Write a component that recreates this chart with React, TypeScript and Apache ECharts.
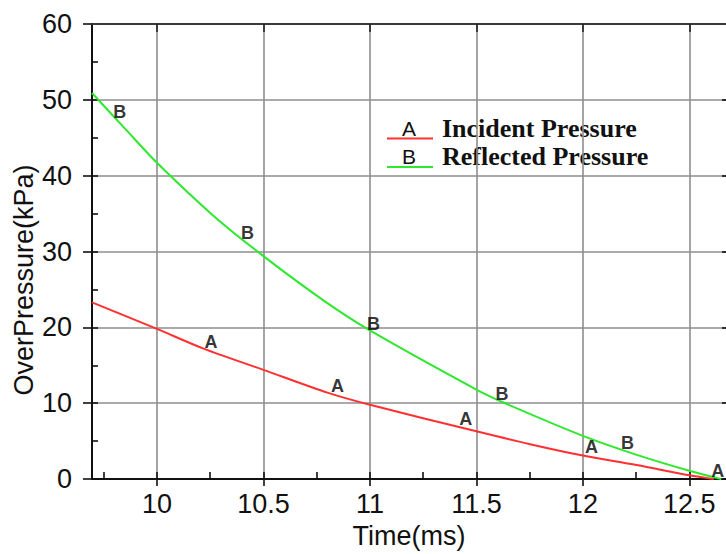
import React, { useEffect, useRef } from "react";
import * as echarts from "echarts";

// Incident pressure (curve A)
const incidentTime = [9.695, 10.0, 10.219, 10.5, 10.8, 11.0, 11.5, 11.752, 12.0, 12.253, 12.5, 12.615];
const incidentPressure = [23.3, 19.8, 17.2, 14.4, 11.4, 9.8, 6.3, 4.6, 3.1, 1.85, 0.5, 0];

// Reflected pressure (curve B)
const reflectedTime = [9.695, 9.85, 10.0, 10.266, 10.5, 10.785, 11.0, 11.5, 11.627, 12.0, 12.253, 12.5, 12.65];
const reflectedPressure = [50.9, 46.2, 41.7, 34.7, 29.4, 23.5, 19.6, 11.8, 10.1, 5.7, 3.2, 1.1, 0];

// Letter markers on the curves
const markerATime = [10.254, 10.848, 11.45, 12.04, 12.633];
const markerAPressure = [18.1, 12.3, 7.9, 4.2, 1.07];
const markerBTime = [9.825, 10.425, 11.017, 11.62, 12.209];
const markerBPressure = [48.4, 32.5, 20.5, 11.2, 4.7];

// Axes
const xMin = 9.695;
const xMax = 12.672;
const xMajorTicks = [10, 10.5, 11, 11.5, 12, 12.5];
const xInnerTicks = [9.75, 10, 10.25, 10.5, 10.75, 11, 11.25, 11.5, 11.75, 12, 12.25, 12.5];
const yInnerTicks = [5, 10, 15, 20, 25, 30, 35, 40, 45, 50, 55];
const yMajorTicks = [10, 20, 30, 40, 50];

const seriesNames = ["Incident Pressure", "Reflected Pressure"];
const seriesLetters = ["A", "B"];
const seriesColors = ["#ff3030", "#2ee82e"];

const AXIS_FONT = "Liberation Sans, Arial, sans-serif";

export default function App() {
  const ref = useRef<HTMLDivElement>(null);

  useEffect(() => {
    if (!ref.current) return;
    const chart = echarts.init(ref.current, undefined, { renderer: "svg" });

    const gridLine = { show: true, lineStyle: { color: "#8e8e8e", width: 1.6 } };
    const letterStyle = {
      fontSize: 18,
      fontWeight: "bold",
      fontFamily: AXIS_FONT,
      color: "#000",
    };
    const letterLabel = (t: string) => ({
      show: true,
      position: "inside",
      formatter: "{l|" + t + "}",
      ...letterStyle,
      rich: { l: letterStyle },
    });

    const option: any = {
      animation: false,
      backgroundColor: "#ffffff",
      grid: { left: 92, right: 0, top: 24, bottom: 66 },
      xAxis: [
        {
          type: "value",
          position: "bottom",
          min: xMin,
          max: xMax,
          name: "Time(ms)",
          nameLocation: "middle",
          nameGap: 38,
          nameTextStyle: { fontSize: 27, fontFamily: AXIS_FONT, color: "#111" },
          axisLine: { show: true, onZero: false, lineStyle: { color: "#111", width: 2 } },
          axisTick: { show: true, inside: false, length: 7, customValues: xMajorTicks, lineStyle: { color: "#111", width: 1.6 } },
          axisLabel: { show: true, customValues: xMajorTicks, margin: 11, fontSize: 27, fontFamily: AXIS_FONT, color: "#111" },
          splitLine: gridLine,
        },
        {
          type: "value",
          position: "bottom",
          min: xMin,
          max: xMax,
          axisLine: { show: false, onZero: false },
          axisTick: { show: true, inside: true, length: 7, customValues: xInnerTicks, lineStyle: { color: "#111", width: 1.6 } },
          axisLabel: { show: false },
          splitLine: { show: false },
        },
        {
          type: "value",
          position: "top",
          min: xMin,
          max: xMax,
          axisLine: { show: true, onZero: false, lineStyle: { color: "#3a3a3a", width: 2 } },
          axisTick: { show: true, inside: true, length: 8, customValues: xMajorTicks, lineStyle: { color: "#222", width: 1.6 } },
          axisLabel: { show: false },
          splitLine: { show: false },
        },
      ],
      yAxis: [
        {
          type: "value",
          position: "left",
          min: 0,
          max: 60,
          interval: 10,
          axisLine: { show: true, onZero: false, lineStyle: { color: "#111", width: 2 } },
          axisTick: { show: true, inside: false, length: 9, lineStyle: { color: "#111", width: 1.6 } },
          axisLabel: { show: true, margin: 20, fontSize: 27, fontFamily: AXIS_FONT, color: "#111" },
          splitLine: gridLine,
        },
        {
          type: "value",
          position: "left",
          min: 0,
          max: 60,
          axisLine: { show: false, onZero: false },
          axisTick: { show: true, inside: true, length: 6, customValues: yInnerTicks, lineStyle: { color: "#111", width: 1.6 } },
          axisLabel: { show: false },
          splitLine: { show: false },
        },
        {
          type: "value",
          position: "right",
          min: 0,
          max: 60,
          axisLine: { show: false, onZero: false },
          axisTick: { show: true, inside: true, length: 4, customValues: yMajorTicks, lineStyle: { color: "#111", width: 1.6 } },
          axisLabel: { show: false },
          splitLine: { show: false },
        },
      ],
      series: [
        {
          name: seriesNames[0],
          type: "line",
          xAxisIndex: 0,
          yAxisIndex: 0,
          data: incidentTime.map((t, i) => [t, incidentPressure[i]]),
          showSymbol: false,
          smooth: 0.3,
          lineStyle: { color: seriesColors[0], width: 2 },
          z: 3,
        },
        {
          name: seriesNames[1],
          type: "line",
          xAxisIndex: 0,
          yAxisIndex: 0,
          data: reflectedTime.map((t, i) => [t, reflectedPressure[i]]),
          showSymbol: false,
          smooth: 0.3,
          lineStyle: { color: seriesColors[1], width: 2 },
          z: 3,
        },
        {
          type: "scatter",
          xAxisIndex: 0,
          yAxisIndex: 0,
          data: markerATime.map((t, i) => [t, markerAPressure[i]]),
          symbolSize: 20,
          itemStyle: { color: "rgba(0,0,0,0)" },
          label: letterLabel(seriesLetters[0]),
          z: 4,
        },
        {
          type: "scatter",
          xAxisIndex: 0,
          yAxisIndex: 0,
          data: markerBTime.map((t, i) => [t, markerBPressure[i]]),
          symbolSize: 20,
          itemStyle: { color: "rgba(0,0,0,0)" },
          label: letterLabel(seriesLetters[1]),
          z: 4,
        },
      ],
      graphic: [
        {
          type: "text",
          x: 24,
          y: 280,
          rotation: Math.PI / 2,
          style: {
            text: "OverPressure(kPa)",
            fontSize: 27,
            fontFamily: AXIS_FONT,
            fill: "#111",
            align: "center",
            verticalAlign: "middle",
          },
        },
        ...seriesNames.flatMap((name, i) => {
          const yc = 128 + i * 28.5;
          return [
            {
              type: "text",
              x: 409,
              y: yc,
              style: {
                text: seriesLetters[i],
                fontSize: 21,
                fontFamily: AXIS_FONT,
                fill: "#111",
                align: "center",
                verticalAlign: "middle",
              },
            },
            {
              type: "line",
              shape: { x1: 387, y1: yc + 10.5, x2: 433, y2: yc + 10.5 },
              style: { stroke: seriesColors[i], lineWidth: 2 },
            },
            {
              type: "text",
              x: 442,
              y: yc,
              style: {
                text: name,
                fontSize: 26,
                fontWeight: "bold",
                fontFamily: "Liberation Serif, Times New Roman, serif",
                fill: "#111",
                align: "left",
                verticalAlign: "middle",
              },
            },
          ];
        }),
      ],
    };

    chart.setOption(option);
    return () => chart.dispose();
  }, []);

  return (
    <div
      ref={ref}
      style={{ position: "fixed", left: 0, top: 0, width: 726, height: 554, background: "#fff" }}
    />
  );
}
